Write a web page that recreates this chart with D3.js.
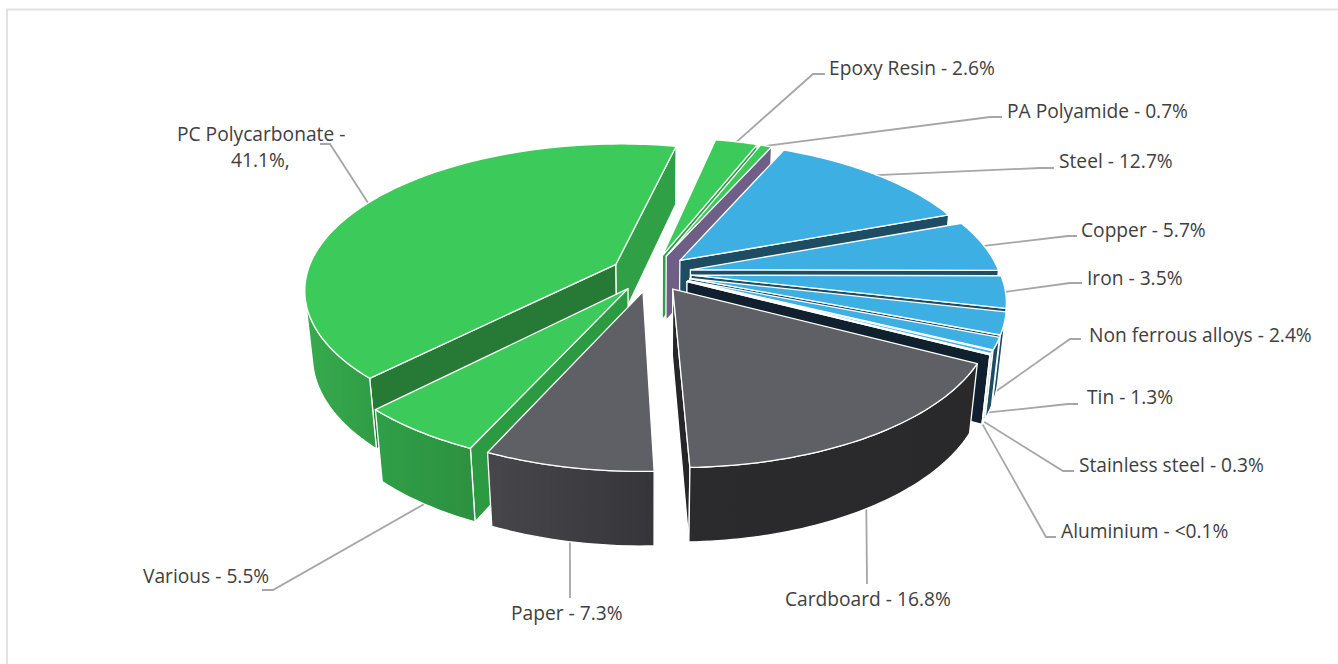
<!DOCTYPE html>
<html>
<head>
<meta charset="utf-8">
<script src="https://cdn.jsdelivr.net/npm/d3@7"></script>
<style>
  html, body { margin: 0; padding: 0; background: #fff; overflow: hidden; }
  text { font-family: "Open Sans", sans-serif; font-size: 19.2px; fill: #404040; }
</style>
</head>
<body>
<div id="chart"></div>
<script>
// chart data, clockwise starting at Steel
const names = ["Steel", "Copper", "Iron", "Non ferrous alloys", "Tin", "Stainless steel", "Aluminium",
  "Cardboard", "Paper", "Various", "PC Polycarbonate", "Epoxy Resin", "PA Polyamide"];
const values = [12.7, 5.7, 3.5, 2.4, 1.3, 0.3, 0.1, 16.8, 7.3, 5.5, 41.1, 2.6, 0.7];
const valueLabels = ["12.7%", "5.7%", "3.5%", "2.4%", "1.3%", "0.3%", "<0.1%", "16.8%", "7.3%", "5.5%", "41.1%,", "2.6%", "0.7%"];

// colours per slice
const topColors = ["#3eafe3", "#3eafe3", "#3eafe3", "#3eafe3", "#3eafe3", "#3eafe3", "#3eafe3",
  "#5f6065", "#5f6065", "#3ccb5a", "#3ccb5a", "#3ccb5a", "#3ccb5a"];
const startWallColors = ["#1d4d63", "#1d4d63", "#1d4d63", "#1d4d63", "#1d4d63", "#1d4d63", "#1d4d63",
  "#262628", "#36363a", "#2c9a40", "#267a36", "#2fa046", "#2fa046"];
const endWallColors = ["#1d4d63", "#1d4d63", "#1d4d63", "#1d4d63", "#1d4d63", "#1d4d63", "#10202f",
  "#262628", "#36363a", "#2c9a40", "#2fa046", "#2fa046", "#6f5f86"];
const outerLeft = ["#1d4d63", "#1d4d63", "#1d4d63", "#1d4d63", "#1d4d63", "#1d4d63", "#10202f",
  "#2b2b2d", "#47474b", "#2f9f47", "#37ab4d", "#2fa046", "#2fa046"];
const outerRight = ["#1d4d63", "#1d4d63", "#1d4d63", "#1d4d63", "#1d4d63", "#1d4d63", "#10202f",
  "#29292b", "#36363a", "#2c9140", "#2f9c45", "#2fa046", "#2fa046"];

// label layout, same order as names: text x, baseline, leader elbow and end, leader on the bottom rim or not
const labelX = [1059, 1081, 1087, 1089, 1087, 1079, 1061, 785, 511, 143, 177, 829, 1007];
const labelY = [168, 237, 285, 342, 404, 472, 538, 606, 620, 583, 141, 75, 118];
const elbows = [[1040, 168], [1068, 236], [1070, 283], [1070, 339], [1068, 404], [1063, 471], [1046, 537],
  [867, 584], [570, 598], [273, 590], [330, 144], [813, 74], [990, 117]];
const leaderEnds = [[1054, 168], [1077, 236], [1082, 283], [1081, 339], [1078, 404], [1074, 471], [1056, 537],
  [867, 584], [570, 598], [262, 590], [320, 144], [825, 74], [1002, 117]];
const onBottom = [0, 0, 0, 1, 1, 1, 1, 1, 1, 1, 0, 0, 0];

const svgWidth = 1338;
const svgHeight = 664;

// projection of the pie: u to the right, v to the back, h downwards (all in pie radii)
const view = { cx: 651, cy: 273, a: 309, b: 143, c: 66.7, k: 0.166, m: 0.022 };
const startDeg = 24;
const explode = 0.13;

function project(u, v, h) {
  const w = 1 + view.k * v + view.m * h;
  return [view.cx + view.a * u / w, view.cy - (view.b * v - view.c * h) / w];
}

function shoelace(pts) {
  let sum = 0;
  pts.forEach((p, i) => {
    const q = pts[(i + 1) % pts.length];
    sum += p[0] * q[1] - q[0] * p[1];
  });
  return sum;
}

const start = startDeg * Math.PI / 180;
const arcs = d3.pie().sort(null).startAngle(start).endAngle(start + 2 * Math.PI)(values);

const slices = arcs.map((d, i) => {
  const mid = (d.startAngle + d.endAngle) / 2;
  const ox = explode * Math.sin(mid);
  const oy = explode * Math.cos(mid);
  const steps = Math.max(2, Math.ceil((d.endAngle - d.startAngle) / 0.02));
  const angles = d3.range(steps + 1).map(s => d.startAngle + (d.endAngle - d.startAngle) * s / steps);
  const rim = h => angles.map(t => project(ox + Math.sin(t), oy + Math.cos(t), h));
  return {
    i, mid, ox, oy,
    apexTop: project(ox, oy, 0),
    apexBottom: project(ox, oy, 1),
    rimTop: rim(0),
    rimBottom: rim(1)
  };
});

const svg = d3.select("#chart")
  .append("svg")
  .attr("width", svgWidth)
  .attr("height", svgHeight);

// thin frame, its right and bottom sides run off the picture
svg.append("rect")
  .attr("x", 7).attr("y", 9.5)
  .attr("width", 1340).attr("height", 670)
  .attr("fill", "#fff").attr("stroke", "#e2e2e2").attr("stroke-width", 2);

const defs = svg.append("defs");
slices.forEach(s => {
  const g = defs.append("linearGradient").attr("id", `outer${s.i}`);
  g.append("stop").attr("offset", "0%").attr("stop-color", outerLeft[s.i]);
  g.append("stop").attr("offset", "100%").attr("stop-color", outerRight[s.i]);
});

const line = d3.line();

// leader lines
const leaders = svg.append("g").attr("fill", "none").attr("stroke", "#a6a6a6").attr("stroke-width", 1.8);
slices.forEach(s => {
  const p = project(s.ox + Math.sin(s.mid), s.oy + Math.cos(s.mid), onBottom[s.i]);
  leaders.append("path").attr("d", line([p, elbows[s.i], leaderEnds[s.i]]));
});

// paint back to front
const pieGroup = svg.append("g").attr("stroke", "#fff").attr("stroke-width", 1.3).attr("stroke-linejoin", "round");
const order = slices.slice().sort((a, b) => Math.cos(b.mid) - Math.cos(a.mid));

function face(pts, fill) {
  pieGroup.append("path").attr("d", line(pts) + "Z").attr("fill", fill);
}

order.forEach(s => {
  const n = s.rimTop.length - 1;
  // radial walls, drawn only when they look at the viewer
  const startWall = [s.apexTop, s.rimTop[0], s.rimBottom[0], s.apexBottom];
  const endWall = [s.rimTop[n], s.apexTop, s.apexBottom, s.rimBottom[n]];
  if (shoelace(startWall) < 0) face(startWall, startWallColors[s.i]);
  if (shoelace(endWall) < 0) face(endWall, endWallColors[s.i]);

  // outer wall, split into the runs of segments that look at the viewer
  let run = [];
  const flush = () => {
    if (run.length) {
      const first = run[0];
      const idx = d3.range(first, run[run.length - 1] + 2);
      const pts = idx.map(j => s.rimTop[j]).concat(idx.slice().reverse().map(j => s.rimBottom[j]));
      face(pts, `url(#outer${s.i})`);
    }
    run = [];
  };
  for (let j = 0; j < n; j++) {
    const quad = [s.rimTop[j], s.rimTop[j + 1], s.rimBottom[j + 1], s.rimBottom[j]];
    if (shoelace(quad) < 0) run.push(j); else flush();
  }
  flush();

  face([s.apexTop].concat(s.rimTop), topColors[s.i]);
});

// labels
const labels = svg.append("g");
slices.forEach(s => {
  if (names[s.i] === "PC Polycarbonate") {
    labels.append("text").attr("x", labelX[s.i]).attr("y", labelY[s.i]).text(`${names[s.i]} -`);
    labels.append("text").attr("x", 231).attr("y", 167).text(valueLabels[s.i]);
  } else {
    labels.append("text").attr("x", labelX[s.i]).attr("y", labelY[s.i]).text(`${names[s.i]} - ${valueLabels[s.i]}`);
  }
});
</script>
</body>
</html>
